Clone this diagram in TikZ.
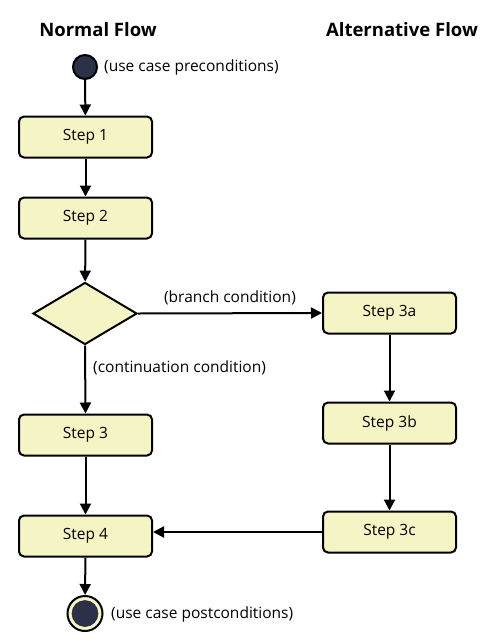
\documentclass[tikz,border=0pt]{standalone}
\usepackage{fontspec}
\setmainfont{Open Sans}
\usetikzlibrary{arrows.meta,shapes.geometric}
\definecolor{boxfill}{RGB}{245,244,196}
\definecolor{darkdot}{RGB}{44,49,74}
\tikzset{
  stepbox/.style={draw=black, line width=2pt, fill=boxfill, rounded corners=5pt,
    minimum width=133pt, minimum height=41pt, inner sep=0pt, font=\fontsize{15.5}{17}\selectfont},
  decision/.style={diamond, draw=black, line width=2pt, fill=boxfill,
    minimum width=104pt, minimum height=62pt, inner sep=0pt},
  flowarrow/.style={line width=2pt, -{Triangle[length=11pt,width=11pt]}},
  cond/.style={font=\fontsize{15.5}{17}\selectfont, inner sep=0pt},
  title/.style={font=\bfseries\fontsize{18.5}{20}\selectfont, inner sep=0pt}
}
\begin{document}
\begin{tikzpicture}[x=1pt,y=-1pt]
\useasboundingbox[fill=white] (0,0) rectangle (493,641);
\node[title] (t1) at (98,30) {Normal Flow};
\node[title] (t2) at (402,30) {Alternative Flow};

\node[circle, draw=black, line width=2pt, fill=darkdot, minimum size=24pt, inner sep=0pt] (start) at (85,67) {};
\node[cond, anchor=west] (pre) at (104,67) {(use case preconditions)};

\node[stepbox] (s1) at (85.5,137) {Step 1};
\node[stepbox] (s2) at (85.5,218) {Step 2};
\node[decision] (d) at (85,313.5) {};
\node[stepbox] (s3) at (85.5,435) {Step 3};
\node[stepbox] (s4) at (85.5,536) {Step 4};
\node[stepbox] (s3a) at (389.5,313) {Step 3a};
\node[stepbox] (s3b) at (389.5,423) {Step 3b};
\node[stepbox] (s3c) at (389.5,532) {Step 3c};

\node[circle, draw=black, line width=2pt, fill=boxfill, minimum size=35pt, inner sep=0pt] (endo) at (85,613.5) {};
\node[circle, draw=darkdot!80!black, line width=0.6pt, fill=darkdot, minimum size=26pt, inner sep=0pt] (endi) at (85,613.5) {};
\node[cond, anchor=west] (post) at (111,614) {(use case postconditions)};

\draw[flowarrow] (start) -- (s1);
\draw[flowarrow] (s1) -- (s2);
\draw[flowarrow] (s2) -- (d);
\draw[flowarrow] (d.east) -- node[cond, above=7pt] (bc) {(branch condition)} (s3a.west);
\draw[flowarrow] (d.south) -- (s3.north);
\node[cond, anchor=west] (cc) at (93,368) {(continuation condition)};
\draw[flowarrow] (s3) -- (s4);
\draw[flowarrow] (s3a) -- (s3b);
\draw[flowarrow] (s3b) -- (s3c);
\draw[flowarrow] (s3c.west) -- (s4.east |- s3c.west);
\draw[flowarrow] (s4) -- (endo);
\end{tikzpicture}
\end{document}
